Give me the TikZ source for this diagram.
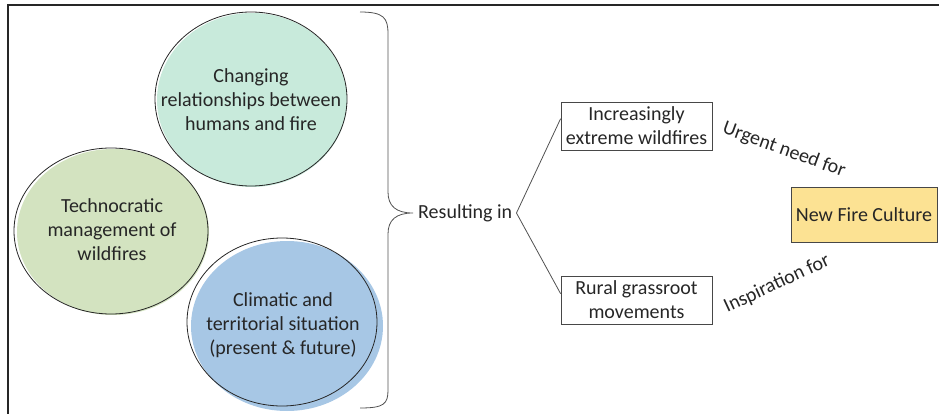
\documentclass[tikz,border=0pt]{standalone}
\usepackage{fontspec}
\setmainfont{Carlito}
\usetikzlibrary{calc}
\definecolor{tealfill}{HTML}{C8EADB}
\definecolor{greenfill}{HTML}{D3E3C0}
\definecolor{bluefill}{HTML}{A7C7E5}
\definecolor{yellowfill}{HTML}{FCE293}
\definecolor{ink}{HTML}{262626}
\begin{document}
\begin{tikzpicture}[x=1pt,y=-1pt,
  txt/.style={font=\fontsize{20}{24}\selectfont, text=ink, align=center, inner sep=0pt},
  rectbox/.style={txt, draw=ink!85, line width=0.8pt, minimum width=151pt, minimum height=48pt},
  outl/.style={draw=ink, line width=0.8pt},
  conn/.style={draw=ink!80, line width=0.8pt},
  ]
\useasboundingbox (0,0) rectangle (939,414);
% frame (top and left edges)
\draw[line width=1.6pt, black!85] (8,414) -- (8,5) -- (939,5);

% circles
\fill[tealfill] (252,100) ellipse [x radius=95pt, y radius=87pt];
\draw[outl] (251,99) ellipse [x radius=96pt, y radius=87pt];
\fill[greenfill] (113,232) ellipse [x radius=96pt, y radius=83pt];
\draw[outl] (111,231) ellipse [x radius=97pt, y radius=83pt];
\fill[bluefill] (287,326) ellipse [x radius=96pt, y radius=85pt];
\draw[outl] (282,322) ellipse [x radius=95pt, y radius=84pt];

\node[txt] (c1) at (251,100) {Changing\\relationships between\\humans and fire};
\node[txt] (c2) at (112,230) {Technocratic\\management of\\wildfires};
\node[txt] (c3) at (283,325) {Climatic and\\territorial situation\\(present \& future)};

% brace
\coordinate (brtip) at (413,213);
\draw[conn] (360,12) .. controls (384,12) and (388,18) .. (388,34) -- (388,192)
  .. controls (388,206) and (396,213) .. (brtip)
  .. controls (396,213) and (388,220) .. (388,234) -- (388,390)
  .. controls (388,404) and (384,408) .. (360,408);

\node[txt, anchor=west] (res) at (418,213) {Resulting in};

% boxes
\node[rectbox] (b1) at (636.5,126) {Increasingly\\extreme wildfires};
\node[rectbox] (b2) at (636.5,300) {Rural grassroot\\movements};
\node[rectbox, fill=yellowfill, minimum width=146pt, minimum height=55pt] (nfc) at (864,214.5) {New Fire Culture};

\coordinate (fork) at ($(res.east)+(4,0)$);
\draw[conn] ($(b1.north west)!0.35!(b1.south west)$) -- (fork) -- ($(b2.north west)!0.37!(b2.south west)$);

% labels
\node[txt, rotate=-20] (urg) at (784,150) {Urgent need for};
\node[txt, rotate=25] (insp) at (777,284) {Inspiration for};
\end{tikzpicture}
\end{document}
